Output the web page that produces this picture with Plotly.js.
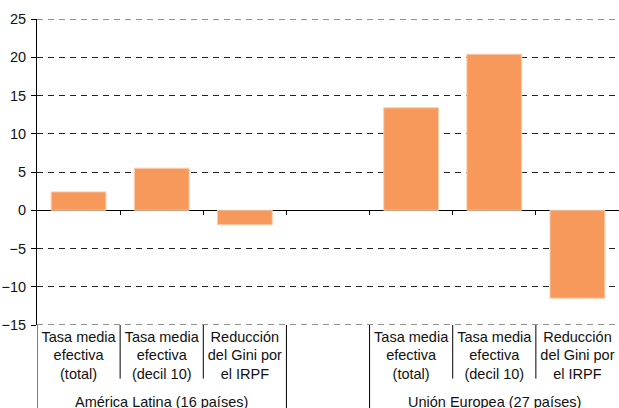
<!DOCTYPE html>
<html>
<head>
<meta charset="utf-8">
<script src="https://cdn.plot.ly/plotly-3.0.1.min.js"></script>
<style>html,body{margin:0;padding:0;background:#fff;}#chart{width:619px;height:408px;}</style>
</head>
<body>
<div id="chart"></div>
<script>
// Data
const categoryLabels = [
  "Tasa media<br>efectiva<br>(total)",
  "Tasa media<br>efectiva<br>(decil 10)",
  "Reducción<br>del Gini por<br>el IRPF",
  "",
  "Tasa media<br>efectiva<br>(total)",
  "Tasa media<br>efectiva<br>(decil 10)",
  "Reducción<br>del Gini por<br>el IRPF"
];
const values = [2.4, 5.5, -1.9, null, 13.4, 20.4, -11.5];
const groupLabels = ["América Latina (16 países)", "Unión Europea (27 países)"];
const groupCenters = [1, 5];
const yTicks = [-15, -10, -5, 0, 5, 10, 15, 20, 25];

const idx = categoryLabels.map((_, i) => i);
const boundaries = idx.slice(0, -1).map(i => i + 0.5);

const font = {family: "Liberation Sans, Arial, sans-serif", size: 14.5, color: "#111"};

const trace = {
  type: "bar",
  x: idx,
  y: values,
  width: 0.66,
  marker: {color: "#F7995B", line: {color: "#FBD0B0", width: 1}},
  hoverinfo: "skip"
};

const shapes = [];
// edge gridlines (Plotly omits them at the range ends)
[yTicks[0], yTicks[yTicks.length - 1]].forEach(v => {
  shapes.push({type: "line", xref: "paper", yref: "y", x0: 0, x1: 1, y0: v, y1: v,
    layer: "below", line: {color: "#222", width: 1, dash: "6px,5px"}});
});
// divider lines below plot
shapes.push({type: "line", xref: "x", yref: "paper", x0: -0.5, x1: -0.5, y0: 0, y1: -0.35, line: {color: "#000", width: 1}});
boundaries.forEach(b => {
  const isGroup = (b === 2.5 || b === 3.5);
  shapes.push({type: "line", xref: "x", yref: "paper", x0: b, x1: b, y0: 0, y1: isGroup ? -0.35 : -0.175, line: {color: "#000", width: 1}});
});

const annotations = groupLabels.map((t, i) => ({
  text: t, xref: "x", yref: "paper", x: groupCenters[i], y: -0.25,
  showarrow: false, xanchor: "center", yanchor: "middle", font: font
}));

const layout = {
  width: 619, height: 408,
  margin: {l: 37, r: 0, t: 19, b: 83},
  paper_bgcolor: "#fff", plot_bgcolor: "#fff",
  showlegend: false,
  font: font,
  xaxis: {
    range: [-0.5, 6.5],
    tickvals: idx, ticktext: categoryLabels,
    ticks: "", showgrid: false, zeroline: false, showline: false,
    tickfont: font, fixedrange: true, ticklabelstandoff: 1
  },
  xaxis2: {
    overlaying: "x", anchor: "free", position: 15/40, side: "bottom",
    range: [-0.5, 6.5], tickvals: boundaries, ticks: "outside", ticklen: 4,
    tickcolor: "#000", tickwidth: 1, showticklabels: false,
    showgrid: false, zeroline: false, showline: false
  },
  yaxis: {
    range: [-15, 25], tickvals: yTicks,
    ticks: "outside", ticklen: 5, tickcolor: "#000", tickwidth: 1,
    showline: true, linecolor: "#000", linewidth: 1,
    showgrid: true, gridcolor: "#222", gridwidth: 1, griddash: "6px,5px",
    zeroline: true, zerolinecolor: "#000", zerolinewidth: 1.5,
    tickfont: font, ticklabelstandoff: 2, fixedrange: true
  },
  shapes: shapes,
  annotations: annotations,
  bargap: 0.34
};

const trace2 = {type: "scatter", x: [0], y: [null], xaxis: "x2", yaxis: "y", hoverinfo: "skip"};

Plotly.newPlot("chart", [trace, trace2], layout, {displayModeBar: false, staticPlot: true});
</script>
</body>
</html>
